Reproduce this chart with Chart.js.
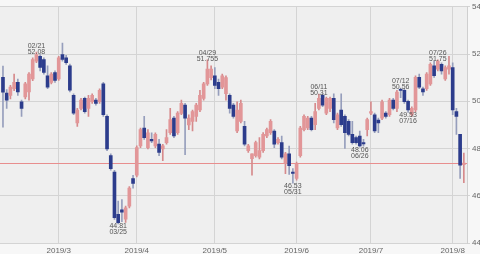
<!DOCTYPE html>
<html>
<head>
<meta charset="utf-8">
<script src="https://cdn.jsdelivr.net/npm/chart.js@4"></script>
<style>
  html, body { margin: 0; padding: 0; background: #f4f4f4; }
  #wrap { width: 480px; height: 254px; }
</style>
</head>
<body>
<div id="wrap"><canvas id="kabuChart" width="480" height="254"></canvas></div>
<script>
// Datos de velas diarias (07/02/2019 - 06/08/2019), índice = día de mercado
const opens = [51.01,50.35,50.25,50.53,50.80,49.98,50.18,50.40,50.95,51.70,51.90,51.77,51.08,50.80,51.22,50.95,51.98,51.84,51.50,50.25,
  49.08,49.70,50.12,49.70,49.98,50.05,49.98,50.74,49.36,47.70,47.00,45.21,45.40,45.01,45.56,46.73,46.87,48.11,48.87,48.04,
  48.39,48.11,48.19,47.98,48.25,48.67,49.29,48.67,49.49,49.84,49.00,49.15,49.36,49.63,50.12,50.74,51.00,51.08,50.80,50.60,
  50.32,50.25,49.84,48.74,49.15,48.94,47.91,47.57,47.70,47.63,47.91,48.53,48.67,48.74,48.25,48.25,47.36,47.77,47.00,46.73,
  47.70,48.80,48.87,49.29,49.01,49.70,50.25,49.50,49.70,50.12,48.87,49.63,49.36,49.15,48.60,48.46,48.53,48.25,48.80,49.50,
  49.43,49.20,49.29,49.50,49.43,50.05,49.70,50.50,50.46,50.00,49.43,49.63,51.01,50.53,50.53,50.74,51.50,51.36,51.56,50.95,
  51.36,51.43,49.56,48.60,47.32];
const highs = [51.49,50.50,50.67,51.15,50.94,50.05,50.80,51.22,51.84,52.08,51.98,51.84,51.50,51.22,51.29,51.90,52.46,51.95,51.57,50.32,
  49.70,50.12,50.18,50.25,50.32,50.12,50.53,50.80,49.43,47.77,47.08,45.77,45.84,45.56,46.39,46.87,48.11,48.87,49.36,48.80,
  48.66,48.66,48.39,48.18,48.80,49.70,49.36,49.56,50.05,49.91,49.43,49.63,49.91,50.46,50.80,51.755,51.50,51.43,50.94,51.15,
  51.08,50.32,49.91,49.98,50.05,49.15,48.18,47.77,48.32,48.46,48.67,48.87,49.22,48.80,48.46,48.53,47.84,48.10,47.15,47.43,
  48.94,49.43,49.36,49.36,49.91,50.31,50.32,50.18,50.18,50.32,49.50,50.32,49.43,49.22,49.15,48.53,48.74,48.39,49.29,49.98,
  49.50,49.29,50.05,49.56,50.12,50.12,50.46,50.56,50.53,50.05,49.77,51.08,51.15,50.60,51.22,51.63,51.70,51.75,51.63,51.50,
  51.90,51.63,49.70,48.60,47.81];
const lows = [48.90,49.70,50.10,50.45,50.25,49.36,50.10,50.05,50.87,51.63,51.29,51.15,50.53,50.74,50.80,50.88,51.70,51.56,50.40,49.43,
  48.94,49.63,49.50,49.36,49.91,49.84,49.91,49.36,47.91,47.08,45.00,44.81,44.90,44.87,45.49,46.32,46.80,48.04,48.39,47.98,
  48.25,48.04,47.70,47.49,48.18,48.60,48.46,48.60,49.43,47.74,48.80,48.74,49.15,49.56,50.05,50.67,50.90,50.53,50.25,50.53,
  50.05,49.50,49.29,48.67,49.08,48.11,47.84,46.87,47.63,47.56,47.84,48.46,48.60,48.04,48.18,47.56,46.94,46.90,46.53,46.66,
  47.63,48.74,48.80,48.74,48.80,49.63,49.77,49.43,49.56,49.08,48.80,48.94,48.00,48.53,48.18,48.18,48.06,48.10,48.53,49.43,
  48.67,48.67,49.22,49.29,49.36,49.63,49.56,50.15,49.91,49.53,49.36,49.56,50.53,50.25,50.46,50.67,51.01,51.29,51.15,50.88,
  51.15,49.43,48.60,46.73,46.55];
const closes = [50.39,50.05,50.60,50.80,50.40,49.70,50.74,51.15,51.77,51.98,51.43,51.22,50.60,51.15,50.88,51.84,51.77,51.63,50.47,49.50,
  49.63,50.05,49.56,50.12,50.25,49.91,50.46,49.43,47.98,47.15,45.07,44.86,45.30,45.49,46.32,46.52,48.04,48.80,48.46,48.66,
  48.32,48.60,47.84,48.11,48.46,49.22,48.53,49.50,49.91,49.29,49.29,49.56,49.84,50.25,50.74,51.36,51.36,50.67,50.53,51.08,
  51.00,49.70,49.36,49.63,49.91,48.18,48.11,47.77,48.25,47.91,48.60,48.80,49.15,48.18,48.39,47.63,47.77,47.27,46.95,47.36,
  48.87,49.36,49.29,48.80,49.56,50.12,49.84,50.12,50.12,49.22,49.43,49.01,48.67,48.60,48.25,48.25,48.11,48.20,49.22,49.56,
  48.74,49.08,49.98,49.36,50.05,49.70,50.39,50.46,49.98,49.63,49.70,51.01,50.60,50.40,51.15,51.56,51.08,51.70,51.29,51.43,
  51.50,49.63,49.36,47.29,47.38];

// Eje X: inicio de cada mes (índice de día) y su etiqueta
const monthIdx = [15, 36, 57, 79, 99, 121];
const monthLabels = ['2019/3', '2019/4', '2019/5', '2019/6', '2019/7', '2019/8'];

// Eje Y (derecha)
const yTicks = [44, 46, 48, 50, 52, 54];

// Marcas de máximos / mínimos
const markIdx = [9, 31, 55, 78, 85, 96, 107, 109, 117];
const markDates = ['02/21', '03/25', '04/29', '05/31', '06/11', '06/26', '07/12', '07/16', '07/26'];
const markValues = ['52.08', '44.81', '51.755', '46.53', '50.31', '48.06', '50.56', '49.53', '51.75'];
const markIsHigh = [true, false, true, false, true, false, true, false, true];

// Precio actual (línea roja)
const lastPrice = closes[closes.length - 1];

const upBody = 'rgb(226,150,152)';
const upWick = 'rgb(214,138,140)';
const downBody = 'rgb(44,60,140)';
const downWick = 'rgb(150,158,188)';
const priceLine = 'rgb(232,142,142)';

const isUp = opens.map((o, i) => closes[i] >= o);

// Fondo y línea de precio
const fondoPlugin = {
    id: 'fondo',
    beforeDraw(chart) {
        const { ctx, chartArea } = chart;
        ctx.save();
        ctx.fillStyle = '#f7f7f7';
        ctx.fillRect(0, 0, chart.width, chart.height);
        ctx.fillStyle = '#efefef';
        ctx.fillRect(chartArea.left, chartArea.top, chartArea.right - chartArea.left, chartArea.bottom - chartArea.top);
        ctx.restore();
    },
    beforeDatasetsDraw(chart) {
        const { ctx, chartArea } = chart;
        const y = Math.round(chart.scales.y.getPixelForValue(lastPrice));
        ctx.save();
        ctx.fillStyle = priceLine;
        ctx.fillRect(chartArea.left, y, chartArea.right - chartArea.left, 1);
        ctx.restore();
    }
};

// Etiquetas de fecha y valor en los extremos
const marcasPlugin = {
    id: 'marcas',
    afterDatasetsDraw(chart) {
        const { ctx } = chart;
        const xs = chart.scales.x, ys = chart.scales.y;
        ctx.save();
        ctx.font = '7px "Liberation Sans", Arial, sans-serif';
        ctx.fillStyle = '#555';
        ctx.textAlign = 'center';
        markIdx.forEach((idx, k) => {
            const x = xs.getPixelForValue(idx);
            if (markIsHigh[k]) {
                const y = ys.getPixelForValue(highs[idx]);
                ctx.textBaseline = 'bottom';
                ctx.fillText(markValues[k], x, y + 3);
                ctx.fillText(markDates[k], x, y - 3);
            } else {
                const y = ys.getPixelForValue(lows[idx]);
                ctx.textBaseline = 'top';
                ctx.fillText(markValues[k], x, y - 1);
                ctx.fillText(markDates[k], x, y + 5);
            }
        });
        ctx.restore();
    }
};

const ctx = document.getElementById('kabuChart').getContext('2d');
const kabuChart = new Chart(ctx, {
    type: 'bar',
    data: {
        datasets: [{
            label: 'cuerpo',
            data: opens.map((o, i) => ({ x: i, y: [o, closes[i]] })),
            backgroundColor: isUp.map(u => u ? upBody : downBody),
            barThickness: 3,
            minBarLength: 1,
            grouped: false,
            order: 1
        }, {
            label: 'mecha',
            data: lows.map((l, i) => ({ x: i, y: [l, highs[i]] })),
            backgroundColor: isUp.map(u => u ? upWick : downWick),
            barThickness: 1,
            grouped: false,
            order: 2
        }]
    },
    options: {
        responsive: false,
        animation: false,
        layout: { padding: { top: 1, left: 0, right: 0, bottom: 0 } },
        plugins: { legend: { display: false }, tooltip: { enabled: false } },
        scales: {
            x: {
                type: 'linear',
                min: -0.8,
                max: 124.85,
                offset: false,
                grid: { color: '#d4d4d4', offset: false, drawTicks: false },
                border: { display: false },
                afterBuildTicks: s => { s.ticks = monthIdx.map(v => ({ value: v })); },
                afterFit: s => { s.height = 11; },
                ticks: {
                    autoSkip: false,
                    maxRotation: 0,
                    padding: 3,
                    color: '#666',
                    font: { size: 8, family: '"Liberation Sans", Arial, sans-serif' },
                    callback: v => monthLabels[monthIdx.indexOf(v)]
                }
            },
            y: {
                position: 'right',
                min: 44,
                max: 54,
                grid: { color: '#d4d4d4', tickLength: 3 },
                border: { color: '#cfcfcf' },
                afterBuildTicks: s => { s.ticks = yTicks.map(v => ({ value: v })); },
                afterFit: s => { s.width = 13; },
                ticks: {
                    padding: 2,
                    color: '#666',
                    font: { size: 8, family: '"Liberation Sans", Arial, sans-serif' }
                }
            }
        }
    },
    plugins: [fondoPlugin, marcasPlugin]
});
</script>
</body>
</html>
